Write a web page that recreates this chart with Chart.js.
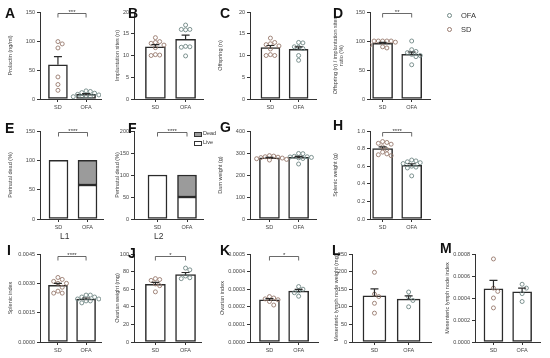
<!DOCTYPE html>
<html>
<head>
<meta charset="utf-8">
<script src="https://cdn.jsdelivr.net/npm/chart.js@4.4.0/dist/chart.umd.min.js"></script>
<style>
  body { margin: 0; background: #fff; width: 550px; height: 358px; position: relative; overflow: hidden;
         font-family: 'Liberation Sans', Arial, sans-serif; }
  .lt { position: absolute; font-weight: bold; font-size: 14px; line-height: 14px; color: #111; }
  .tx { position: absolute; color: #333; white-space: nowrap; }
  .dot { position: absolute; width: 3px; height: 3px; border: 1px solid; border-radius: 50%; }
  .box { position: absolute; width: 6px; height: 3px; border: 1px solid #333; }
</style>
</head>
<body>
<script>
const groups = ['SD', 'OFA'];

// A prolactin
const prolactinMean = [59, 8];
const prolactinSem = [14, 1.3];
const prolactinSD = [99, 95, 88, 38, 25, 15];
const prolactinOFA = [14, 13, 11, 10, 8, 7, 6, 5, 4, 3];

// B implantation sites
const implantMean = [12.0, 13.7];
const implantSem = [0.5, 1.0];
const implantSD = [14.1, 13.2, 13.0, 12.8, 12.4, 11.8, 10.2, 10.0, 10.1];
const implantOFA = [17.0, 16.0, 16.0, 15.9, 12.1, 12.0, 11.9, 9.9];

// C offspring
const offspringMean = [11.8, 11.4];
const offspringSem = [0.5, 0.6];
const offspringSD = [14.0, 13.0, 12.7, 12.5, 12.2, 11.5, 10.2, 10.0, 10.0];
const offspringOFA = [13.0, 12.9, 12.0, 11.9, 11.6, 10.0, 8.9];

// D offspring / implantation ratio
const ratioMean = [96, 77];
const ratioSem = [1.5, 4];
const ratioSD = [100, 100, 100, 100, 100, 98, 93, 90, 88];
const ratioOFA = [100, 85, 82, 80, 77, 75, 73, 59];

// E, F perinatal dead
const liveE = [100, 58];
const deadE = [0, 42];
const liveF = [100, 50];
const deadF = [0, 50];

// G dam weight
const damMean = [278, 280];
const damSem = [2.5, 4.5];
const damSD = [288, 286, 283, 281, 279, 277, 274, 271, 268];
const damOFA = [298, 297, 285, 283, 282, 280, 278, 275, 250];

// H splenic weight
const spleenMean = [0.80, 0.61];
const spleenSem = [0.02, 0.018];
const spleenSD = [0.88, 0.87, 0.86, 0.85, 0.82, 0.79, 0.76, 0.74, 0.73, 0.72];
const spleenOFA = [0.67, 0.66, 0.65, 0.64, 0.63, 0.60, 0.59, 0.58, 0.49];

// I splenic index
const spleenIdxMean = [0.0029, 0.0022];
const spleenIdxSem = [0.0001, 0.00005];
const spleenIdxSD = [0.0033, 0.0032, 0.0031, 0.0030, 0.0030, 0.0028, 0.0026, 0.0025, 0.0025];
const spleenIdxOFA = [0.0024, 0.0024, 0.0023, 0.0023, 0.0022, 0.0022, 0.0021, 0.0021, 0.0020];

// J ovarian weight
const ovaryMean = [65.5, 76.5];
const ovarySem = [2.3, 2.5];
const ovarySD = [72, 71, 70, 66, 64, 57];
const ovaryOFA = [84, 82, 75, 73, 72];

// K ovarian index
const ovaryIdxMean = [0.000239, 0.000289];
const ovaryIdxSem = [0.000007, 0.00001];
const ovaryIdxSD = [0.000258, 0.00025, 0.000245, 0.00024, 0.00023, 0.00021];
const ovaryIdxOFA = [0.000315, 0.0003, 0.00029, 0.00028, 0.00026];

// L lymph node weight
const lymphMean = [131, 122];
const lymphSem = [20, 9];
const lymphSD = [198, 136, 129, 110, 82];
const lymphOFA = [142, 128, 118, 100];

// M lymph node index
const lymphIdxMean = [0.000483, 0.000456];
const lymphIdxSem = [0.000078, 0.000033];
const lymphIdxSD = [0.000755, 0.00049, 0.00046, 0.0004, 0.00031];
const lymphIdxOFA = [0.000525, 0.00049, 0.00044, 0.000368];

// page layout (pixels)
const ROW_TOP = [12, 131, 254];
const ROW_BOTTOM = [99, 219, 342];
const layout = {
  A: { row: 0, tx: 10.5, axis: 40, c0: 58.5, c1: 87.5, right: 103 },
  B: { row: 0, tx: 117, axis: 134, c0: 156, c1: 187, right: 205 },
  C: { row: 0, tx: 220, axis: 250, c0: 271, c1: 300, right: 318 },
  D: { row: 0, tx: 335, axis: 370, c0: 383, c1: 413, right: 432 },
  E: { row: 1, tx: 10.5, axis: 40, c0: 58.5, c1: 87.5, right: 103 },
  F: { row: 1, tx: 117, axis: 134, c0: 157.5, c1: 187, right: 203 },
  G: { row: 1, tx: 220, axis: 250, c0: 270, c1: 300, right: 318 },
  H: { row: 1, tx: 335, axis: 370, c0: 383, c1: 413, right: 432 },
  I: { row: 2, tx: 10.5, axis: 40, c0: 58.5, c1: 87.5, right: 103 },
  J: { row: 2, tx: 117, axis: 134, c0: 156, c1: 187, right: 203 },
  K: { row: 2, tx: 222, axis: 250, c0: 270, c1: 300, right: 320 },
  L: { row: 2, tx: 336, axis: 352, c0: 375, c1: 410, right: 433 },
  M: { row: 2, tx: 447, axis: 475, c0: 494, c1: 523.5, right: 542 },
};
const letterPos = {
  A: [5, 6], B: [128, 6], C: [220, 6], D: [333, 6],
  E: [5, 121], F: [128, 121], G: [220, 120], H: [333, 118],
  I: [7, 243], J: [128, 246], K: [220, 243], L: [332, 243], M: [440, 241],
};

const SD_COLOR = '#97796d';
const OFA_COLOR = '#6f8784';
const INK = '#2b2b2b';
const FONT = "'Liberation Sans', Arial, sans-serif";
Chart.defaults.font.family = FONT;

Chart.register({
  id: 'graphpad',
  afterDatasetsDraw(chart, args, opts) {
    const { ctx, scales: { x, y } } = chart;
    ctx.save();
    if (opts.mean && opts.sem) {
      ctx.strokeStyle = INK;
      ctx.lineWidth = 1.2;
      opts.mean.forEach((m, i) => {
        const px = x.getPixelForValue(i);
        const y0 = y.getPixelForValue(m);
        const y1 = y.getPixelForValue(m + opts.sem[i]);
        ctx.beginPath();
        ctx.moveTo(px, y0); ctx.lineTo(px, y1);
        ctx.moveTo(px - 4, y1); ctx.lineTo(px + 4, y1);
        ctx.stroke();
      });
    }
    if (opts.sig) {
      const [label, v] = opts.sig;
      const xa = x.getPixelForValue(0), xb = x.getPixelForValue(1);
      const yb = Math.round(y.getPixelForValue(v)) + 0.5;
      ctx.strokeStyle = '#444';
      ctx.lineWidth = 0.8;
      ctx.beginPath();
      ctx.moveTo(xa, yb + 4); ctx.lineTo(xa, yb); ctx.lineTo(xb, yb); ctx.lineTo(xb, yb + 4);
      ctx.stroke();
      ctx.fillStyle = '#333';
      ctx.font = '6px ' + FONT;
      ctx.textAlign = 'center';
      ctx.textBaseline = 'bottom';
      ctx.fillText(label, (xa + xb) / 2, yb + 2);
    }
    ctx.restore();
  }
});

// beeswarm offsets (in x units) so dots do not overlap
function swarm(values, pxPerVal, unitPx) {
  const d = 4.4;
  const placed = [];
  const offs = new Array(values.length);
  const order = values.map((v, i) => i).sort((a, b) => values[b] - values[a]);
  order.forEach(i => {
    const v = values[i];
    for (let k = 0; k < 30; k++) {
      const off = (k % 2 ? 1 : -1) * Math.ceil(k / 2) * d;
      const ok = placed.every(p => (p.o - off) ** 2 + ((p.v - v) * pxPerVal) ** 2 >= d * d);
      if (ok) { placed.push({ o: off, v }); offs[i] = off / unitPx; break; }
    }
  });
  return offs;
}

function makePanel(id, cfg) {
  const L = layout[id];
  const top = ROW_TOP[L.row], bottom = ROW_BOTTOM[L.row];
  const left = Math.round(L.tx - 3.3);
  const padTop = 9, xh = 14;
  const W = Math.ceil(L.right - left + 3);
  const padRight = left + W - L.right;
  const ctop = top - padTop;
  const H = bottom - ctop + xh;
  const yw = L.axis - left;
  const unit = L.c1 - L.c0;
  const plotH = bottom - top;

  const cv = document.createElement('canvas');
  cv.width = W; cv.height = H;
  cv.style.cssText = `position:absolute;left:${left}px;top:${ctop}px`;
  document.body.appendChild(cv);

  const barBase = {
    type: 'bar', order: 2, barThickness: Math.round(unit * 0.66),
    borderColor: INK, borderWidth: 1.5, borderSkipped: false,
  };
  const datasets = [];
  if (cfg.stack) {
    datasets.push({ ...barBase, data: cfg.stack[0].map((v, i) => ({ x: i, y: v })), backgroundColor: '#fff' });
    datasets.push({ ...barBase, data: cfg.stack[1].map((v, i) => ({ x: i, y: v })), backgroundColor: '#9b9b9b' });
  } else {
    datasets.push({ ...barBase, data: cfg.mean.map((v, i) => ({ x: i, y: v })), backgroundColor: '#fff' });
    cfg.dots.forEach((vals, g) => {
      const offs = swarm(vals, plotH / cfg.max, unit);
      datasets.push({
        type: 'scatter', order: 1,
        data: vals.map((v, i) => ({ x: g + offs[i], y: v })),
        pointRadius: 2, pointBorderWidth: 0.9,
        pointBackgroundColor: 'rgba(255,255,255,0)',
        pointBorderColor: g === 0 ? SD_COLOR : OFA_COLOR,
      });
    });
  }

  const axisGrid = { display: true, drawOnChartArea: false, drawTicks: true, tickLength: 3, color: '#333', lineWidth: 1, offset: false };
  const tickFont = { size: 5.5 };

  new Chart(cv, {
    type: 'bar',
    data: { datasets },
    options: {
      responsive: false, animation: false, devicePixelRatio: 1,
      layout: { padding: { top: padTop, right: padRight, left: 0, bottom: 0 } },
      plugins: {
        legend: { display: false }, tooltip: { enabled: false },
        graphpad: { mean: cfg.stack ? null : cfg.mean, sem: cfg.sem, sig: cfg.sig },
      },
      scales: {
        x: {
          type: 'linear', offset: false, stacked: !!cfg.stack,
          min: -(L.c0 - L.axis) / unit, max: 1 + (L.right - L.c1) / unit,
          grid: axisGrid, border: { color: '#333', width: 1 },
          ticks: { font: tickFont, color: '#444', padding: 2, maxRotation: 0, autoSkip: false, callback: v => groups[v] },
          afterBuildTicks: s => { s.ticks = [{ value: 0 }, { value: 1 }]; },
          afterFit: s => { s.height = xh; },
        },
        y: {
          min: 0, max: cfg.max, stacked: !!cfg.stack,
          grid: axisGrid, border: { color: '#333', width: 1 },
          ticks: { stepSize: cfg.step, font: tickFont, color: '#444', padding: 2, callback: cfg.fmt || (v => v) },
          title: { display: true, text: cfg.title, font: { size: 5.5 }, color: '#444', padding: 0 },
          afterFit: s => { s.width = yw; },
        },
      },
    },
  });
}

const f1 = v => v.toFixed(1);
const f4 = v => v.toFixed(4);

makePanel('A', { title: 'Prolactin (ng/ml)', max: 150, step: 50, mean: prolactinMean, sem: prolactinSem, dots: [prolactinSD, prolactinOFA], sig: ['***', 148] });
makePanel('B', { title: 'Implantation sites (n)', max: 20, step: 5, mean: implantMean, sem: implantSem, dots: [implantSD, implantOFA] });
makePanel('C', { title: 'Offspring (n)', max: 20, step: 5, mean: offspringMean, sem: offspringSem, dots: [offspringSD, offspringOFA] });
makePanel('D', { title: ['Offspring (n) / implantation sites', 'ratio (%)'], max: 150, step: 50, mean: ratioMean, sem: ratioSem, dots: [ratioSD, ratioOFA], sig: ['**', 148] });
makePanel('E', { title: 'Perinatal dead (%)', max: 150, step: 50, stack: [liveE, deadE], sig: ['****', 149] });
makePanel('F', { title: 'Perinatal dead (%)', max: 200, step: 50, stack: [liveF, deadF], sig: ['****', 198] });
makePanel('G', { title: 'Dam weight (g)', max: 400, step: 100, mean: damMean, sem: damSem, dots: [damSD, damOFA] });
makePanel('H', { title: 'Splenic weight (g)', max: 1.0, step: 0.2, fmt: f1, mean: spleenMean, sem: spleenSem, dots: [spleenSD, spleenOFA], sig: ['****', 0.99] });
makePanel('I', { title: 'Splenic index', max: 0.0045, step: 0.0015, fmt: f4, mean: spleenIdxMean, sem: spleenIdxSem, dots: [spleenIdxSD, spleenIdxOFA], sig: ['****', 0.0044] });
makePanel('J', { title: 'Ovarian weight (mg)', max: 100, step: 20, mean: ovaryMean, sem: ovarySem, dots: [ovarySD, ovaryOFA], sig: ['*', 98] });
makePanel('K', { title: 'Ovarian index', max: 0.0005, step: 0.0001, fmt: f4, mean: ovaryIdxMean, sem: ovaryIdxSem, dots: [ovaryIdxSD, ovaryIdxOFA], sig: ['*', 0.00049] });
makePanel('L', { title: 'Mesenteric lymph node weight (mg)', max: 250, step: 50, mean: lymphMean, sem: lymphSem, dots: [lymphSD, lymphOFA] });
makePanel('M', { title: 'Mesenteric lymph node index', max: 0.0008, step: 0.0002, fmt: f4, mean: lymphIdxMean, sem: lymphIdxSem, dots: [lymphIdxSD, lymphIdxOFA] });

// panel letters
Object.entries(letterPos).forEach(([k, [x, y]]) => {
  const d = document.createElement('div');
  d.className = 'lt'; d.textContent = k;
  d.style.left = x + 'px'; d.style.top = y + 'px';
  document.body.appendChild(d);
});

function addText(txt, x, y, size, color) {
  const d = document.createElement('div');
  d.className = 'tx'; d.textContent = txt;
  d.style.cssText += `left:${x}px;top:${y}px;font-size:${size}px;line-height:${size}px;color:${color || '#333'}`;
  document.body.appendChild(d);
  return d;
}
function addEl(cls, x, y, style) {
  const d = document.createElement('div');
  d.className = cls;
  d.style.cssText = `left:${x}px;top:${y}px;` + (style || '');
  document.body.appendChild(d);
}

// sub labels L1 / L2
addText('L1', 60, 232, 8.5, '#333');
addText('L2', 154, 232, 8.5, '#333');

// legend for dots
addEl('dot', 447, 13, `border-color:${OFA_COLOR}`);
addText('OFA', 461, 12, 7.5);
addEl('dot', 447, 27, `border-color:${SD_COLOR}`);
addText('SD', 461, 26, 7.5);

// legend for F
addEl('box', 194, 132, 'background:#9b9b9b');
addText('Dead', 203, 131, 5.5);
addEl('box', 194, 141, 'background:#fff');
addText('Live', 203, 140, 5.5);
</script>
</body>
</html>
